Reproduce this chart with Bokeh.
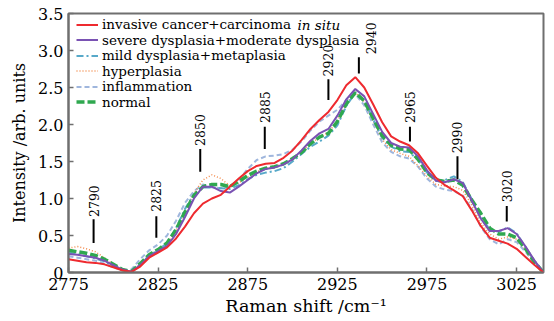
import math
from bokeh.plotting import figure
from bokeh.models import (Range1d, FixedTicker, Legend, LegendItem, Label)
from bokeh.core.properties import value
from bokeh.embed import file_html
from bokeh.resources import INLINE

# ---------------- data ----------------
shift = [2775, 2780, 2785, 2790, 2795, 2800, 2805, 2810, 2815, 2820,
         2825, 2830, 2835, 2840, 2845, 2850, 2855, 2860, 2865, 2870,
         2875, 2880, 2885, 2890, 2895, 2900, 2905, 2910, 2915, 2920,
         2925, 2930, 2935, 2940, 2945, 2950, 2955, 2960, 2965, 2970,
         2975, 2980, 2985, 2990, 2995, 3000, 3005, 3010, 3015, 3020,
         3025, 3030, 3035, 3040]

invasive = [0.18, 0.16, 0.14, 0.13, 0.11, 0.07, 0.03, 0.01, 0.08, 0.20,
            0.27, 0.34, 0.46, 0.62, 0.80, 0.93, 1.00, 1.05, 1.16, 1.27,
            1.37, 1.44, 1.47, 1.48, 1.55, 1.65, 1.79, 1.94, 2.06, 2.17,
            2.33, 2.53, 2.64, 2.50, 2.27, 2.03, 1.84, 1.77, 1.72, 1.61,
            1.44, 1.28, 1.18, 1.11, 1.03, 0.84, 0.63, 0.47, 0.43, 0.39,
            0.32, 0.21, 0.10, 0.00]

severe = [0.25, 0.24, 0.22, 0.20, 0.16, 0.10, 0.04, 0.01, 0.10, 0.22,
          0.29, 0.36, 0.52, 0.75, 1.00, 1.16, 1.16, 1.10, 1.08, 1.16,
          1.25, 1.34, 1.40, 1.42, 1.46, 1.53, 1.65, 1.78, 1.88, 1.94,
          2.12, 2.34, 2.48, 2.38, 2.14, 1.90, 1.75, 1.70, 1.69, 1.57,
          1.38, 1.24, 1.22, 1.26, 1.21, 0.97, 0.73, 0.56, 0.56, 0.60,
          0.52, 0.35, 0.16, 0.00]

mild = [0.27, 0.25, 0.22, 0.19, 0.15, 0.09, 0.03, 0.01, 0.11, 0.23,
        0.30, 0.40, 0.60, 0.86, 1.06, 1.15, 1.15, 1.14, 1.13, 1.18,
        1.26, 1.32, 1.35, 1.37, 1.41, 1.50, 1.60, 1.70, 1.77, 1.85,
        1.99, 2.25, 2.43, 2.33, 2.07, 1.82, 1.70, 1.64, 1.63, 1.52,
        1.35, 1.24, 1.25, 1.30, 1.22, 0.99, 0.76, 0.58, 0.55, 0.61,
        0.53, 0.34, 0.15, 0.00]

hyperplasia = [0.33, 0.35, 0.32, 0.28, 0.20, 0.11, 0.04, 0.01, 0.11, 0.23,
               0.30, 0.39, 0.57, 0.83, 1.07, 1.25, 1.32, 1.27, 1.17, 1.21,
               1.29, 1.36, 1.41, 1.43, 1.47, 1.54, 1.63, 1.74, 1.83, 1.89,
               2.05, 2.28, 2.43, 2.31, 2.05, 1.80, 1.66, 1.61, 1.57, 1.44,
               1.30, 1.19, 1.17, 1.16, 1.11, 0.91, 0.67, 0.52, 0.45, 0.48,
               0.45, 0.31, 0.14, 0.00]

inflammation = [0.22, 0.20, 0.18, 0.16, 0.12, 0.07, 0.03, 0.04, 0.18, 0.30,
                0.38, 0.50, 0.70, 0.94, 1.10, 1.19, 1.15, 1.14, 1.16, 1.25,
                1.40, 1.52, 1.57, 1.58, 1.60, 1.66, 1.77, 1.92, 2.04, 2.12,
                2.20, 2.33, 2.41, 2.26, 2.00, 1.76, 1.63, 1.57, 1.54, 1.43,
                1.27, 1.16, 1.12, 1.10, 1.04, 0.86, 0.62, 0.45, 0.38, 0.45,
                0.41, 0.28, 0.12, 0.00]

normal = [0.30, 0.28, 0.26, 0.23, 0.18, 0.11, 0.04, 0.01, 0.12, 0.24,
          0.31, 0.40, 0.58, 0.82, 1.04, 1.16, 1.19, 1.19, 1.16, 1.23,
          1.31, 1.37, 1.41, 1.43, 1.47, 1.54, 1.62, 1.74, 1.83, 1.88,
          2.04, 2.28, 2.43, 2.32, 2.08, 1.85, 1.72, 1.67, 1.66, 1.53,
          1.35, 1.25, 1.23, 1.25, 1.18, 0.98, 0.80, 0.60, 0.52, 0.52,
          0.47, 0.32, 0.14, 0.00]

series_names = ["invasive cancer+carcinoma", "severe dysplasia+moderate dysplasia",
                "mild dysplasia+metaplasia", "hyperplasia", "inflammation", "normal"]

# band annotations
band_labels = ["2790", "2825", "2850", "2885", "2920", "2940", "2965", "2990", "3020"]
band_x = [2789, 2824, 2848.5, 2884.5, 2920, 2937, 2965.5, 2992, 3019.5]
band_text_x = [2789, 2824, 2848.5, 2884.5, 2920, 2943.5, 2965.5, 2992, 3019.5]
band_y0 = [0.40, 0.47, 1.36, 1.67, 2.33, 2.69, 1.77, 1.26, 0.69]
band_y1 = [0.72, 0.76, 1.67, 1.97, 2.61, 2.91, 1.97, 1.57, 0.90]
band_text_y = [0.75, 0.82, 1.71, 2.02, 2.65, 2.95, 2.02, 1.61, 0.95]

x_ticks = [2775, 2825, 2875, 2925, 2975, 3025]
y_ticks = [0, 0.5, 1.0, 1.5, 2.0, 2.5, 3.0, 3.5]
y_tick_labels = ["0", "0.5", "1.0", "1.5", "2.0", "2.5", "3.0", "3.5"]

# ---------------- figure ----------------
FONT = "DejaVu Serif"
GRAY = "#6f6f6f"
FW, FH = 475, 259

p = figure(width=546, height=321, frame_width=FW, frame_height=FH,
           output_backend="svg", toolbar_location=None,
           x_range=Range1d(2775, 3040), y_range=Range1d(0, 3.5),
           min_border_left=68, min_border_right=3, min_border_top=13, min_border_bottom=49)
p.background_fill_color = "white"
p.border_fill_color = "white"
p.grid.visible = False
p.outline_line_color = GRAY
p.outline_line_width = 2

for ax in (p.xaxis[0], p.yaxis[0]):
    ax.axis_line_color = GRAY
    ax.axis_line_width = 2
    ax.major_tick_line_color = GRAY
    ax.major_tick_line_width = 1.5
    ax.major_tick_in = 5
    ax.major_tick_out = 0
    ax.minor_tick_line_color = None
    ax.major_label_text_font = FONT
    ax.major_label_text_font_size = "16px"
    ax.major_label_text_color = "black"
    ax.axis_label_text_font = FONT
    ax.axis_label_text_font_style = "normal"
    ax.axis_label_text_color = "black"

p.xaxis.ticker = FixedTicker(ticks=x_ticks)
p.yaxis.ticker = FixedTicker(ticks=y_ticks)
p.yaxis.major_label_overrides = {t: l for t, l in zip(y_ticks, y_tick_labels)}
p.xaxis.axis_label = "Raman shift /cm\u207b\u00b9"
p.yaxis.axis_label = "Intensity /arb. units"
p.xaxis.axis_label_text_font_size = "17.5px"
p.yaxis.axis_label_text_font_size = "16px"
p.xaxis.major_label_standoff = 5
p.xaxis.axis_label_standoff = 3
p.yaxis.major_label_standoff = 5
p.yaxis.axis_label_standoff = 6

r_infl = p.line(shift, inflammation, line_color="#9fb6dd", line_width=2, line_dash="5 3")
r_hyp = p.line(shift, hyperplasia, line_color="#f28c4e", line_width=1.5, line_dash="1 2")
r_mild = p.line(shift, mild, line_color="#57a9c9", line_width=2, line_dash="7 3 2 3")
r_norm = p.line(shift, normal, line_color="#2fa84f", line_width=3.5, line_dash="8 3")
r_sev = p.line(shift, severe, line_color="#7a52b3", line_width=2)
r_inv = p.line(shift, invasive, line_color="#ee2a2f", line_width=2)
renderers = [r_inv, r_sev, r_mild, r_hyp, r_infl, r_norm]

# band markers
p.segment(x0=band_x, y0=band_y0, x1=band_x, y1=band_y1, line_color="black", line_width=2)
p.text(x=band_text_x, y=band_text_y, text=band_labels, angle=math.pi / 2,
       text_align="left", text_baseline="middle", text_font=value(FONT),
       text_font_size="12.5px", text_color="black")

# legend: one row per Legend so rows can sit ~15.5px apart
ROW_H = 16
for i, (name, r) in enumerate(zip(series_names, renderers)):
    center_from_top = 11.4 + 15.5 * i
    lg = Legend(items=[LegendItem(label=name, renderers=[r])],
                location=(8, FH - center_from_top - ROW_H / 2))
    lg.border_line_color = None
    lg.background_fill_alpha = 0
    lg.margin = 0
    lg.padding = 0
    lg.spacing = 0
    lg.label_height = 15
    lg.glyph_height = 15
    lg.glyph_width = 22
    lg.label_standoff = 4
    lg.label_text_font = FONT
    lg.label_text_font_size = "13.5px"
    lg.label_text_color = "black"
    p.add_layout(lg)

p.add_layout(Label(x=229, y=FH - 11.4, x_units="screen", y_units="screen",
                   text="in situ", text_font=FONT, text_font_size="13.5px",
                   text_font_style="italic", text_baseline="middle", text_color="black"))

open("out.html", "w").write(file_html(p, INLINE))
